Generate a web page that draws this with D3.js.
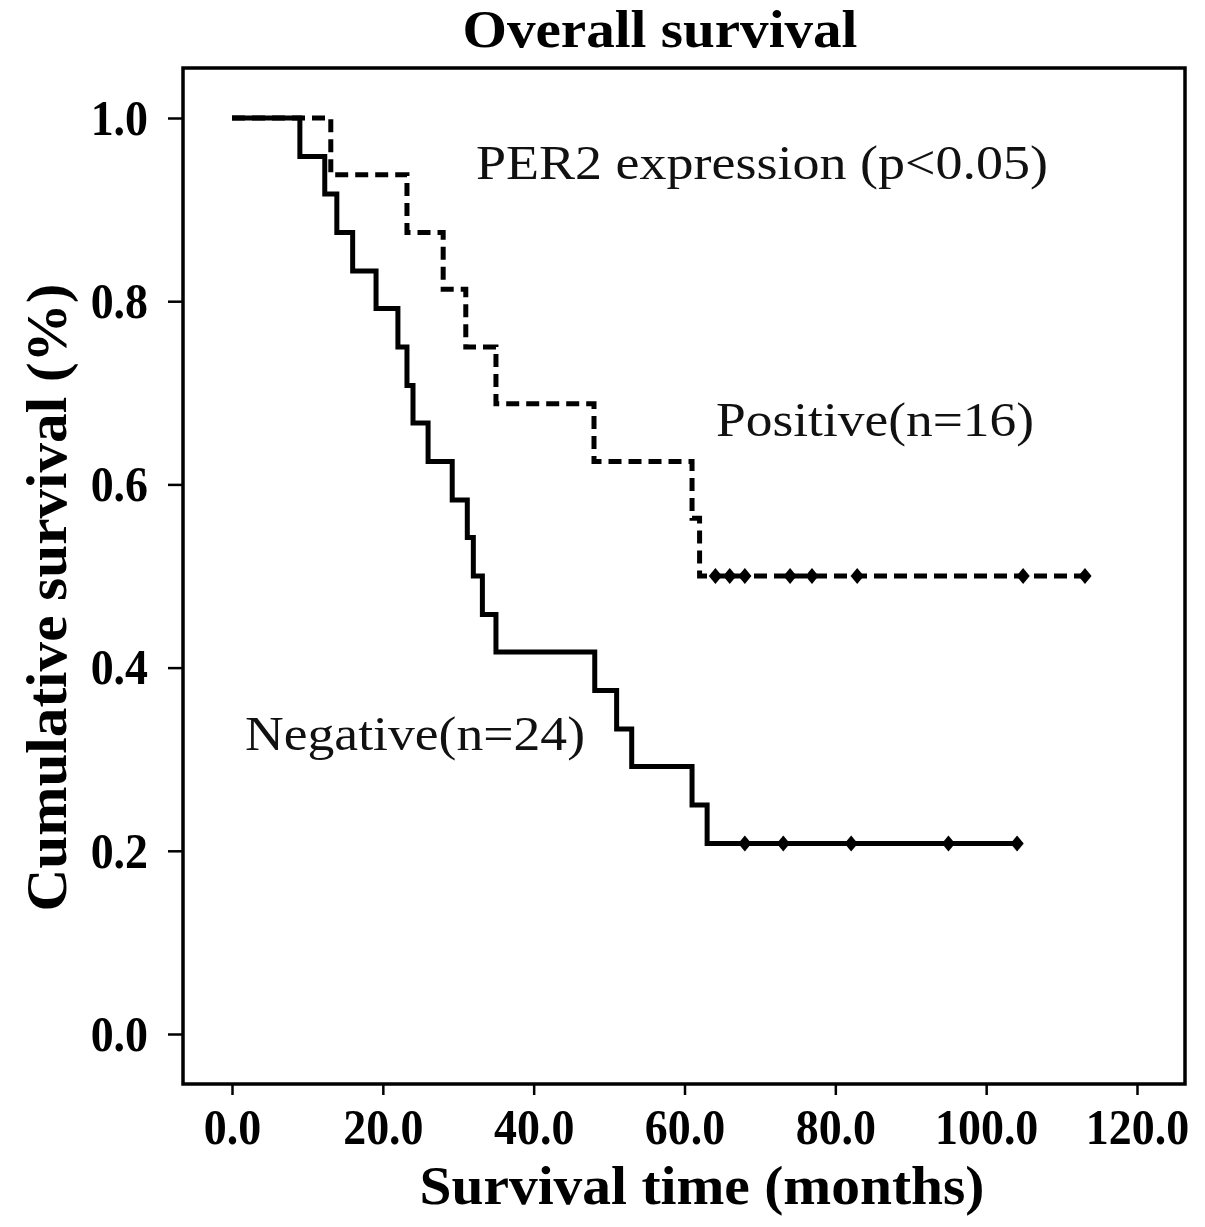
<!DOCTYPE html>
<html>
<head>
<meta charset="utf-8">
<script src="https://cdn.jsdelivr.net/npm/d3@7"></script>
<style>
  html, body { margin: 0; padding: 0; background: #fff; }
  svg { display: block; }
</style>
</head>
<body>
<svg id="chart" width="1205" height="1227"></svg>
<script>
// ---- data ----
const xTicks = [0, 20, 40, 60, 80, 100, 120];
const yTicks = [0.0, 0.2, 0.4, 0.6, 0.8, 1.0];

// Negative group (n=24): step times (months) and survival after each step
const negTimes = [0, 9.0, 12.3, 13.9, 16.0, 19.1, 22.0, 23.2, 24.0, 26.0, 29.2, 31.2, 32.0, 33.2, 35.0, 48.1, 51.0, 53.0, 61.0, 63.0, 104.1];
const negSurv  = [1.000, 0.958, 0.917, 0.875, 0.833, 0.792, 0.750, 0.708, 0.667, 0.625, 0.583, 0.542, 0.500, 0.458, 0.417, 0.375, 0.333, 0.292, 0.250, 0.208, 0.208];
const negCensored = [68.0, 73.1, 82.1, 95.0, 104.1];

// Positive group (n=16)
const posTimes = [0, 13.1, 23.2, 28.0, 31.0, 35.0, 48.0, 61.0, 62.0, 113.1];
const posSurv  = [1.000, 0.938, 0.875, 0.813, 0.750, 0.688, 0.625, 0.563, 0.500, 0.500];
const posCensored = [64.1, 66.0, 68.0, 74.0, 76.9, 82.9, 104.9, 113.1];

// ---- drawing ----
const svg = d3.select("#chart");
const frame = {left: 183, right: 1185, top: 68, bottom: 1084};

const x = d3.scaleLinear().domain([0, 120]).range([232, 1137]);
const y = d3.scaleLinear().domain([0, 1]).range([1034, 118]);

const serif = "'Liberation Serif', 'Times New Roman', Times, serif";

// frame
svg.append("rect")
  .attr("x", frame.left).attr("y", frame.top)
  .attr("width", frame.right - frame.left).attr("height", frame.bottom - frame.top)
  .attr("fill", "none").attr("stroke", "#000").attr("stroke-width", 3.5);

function condense(sel, factor) {
  sel.each(function () {
    const w = this.getComputedTextLength();
    d3.select(this).attr("textLength", w * factor).attr("lengthAdjust", "spacingAndGlyphs");
  });
}

// x axis
const xAxis = svg.append("g")
  .attr("transform", `translate(0,${frame.bottom})`)
  .call(d3.axisBottom(x).tickValues(xTicks).tickSize(11).tickPadding(13).tickFormat(d3.format(".1f")));
xAxis.select(".domain").remove();
xAxis.selectAll(".tick line").attr("stroke", "#000").attr("stroke-width", 2.5);
xAxis.selectAll(".tick text")
  .attr("font-family", serif).attr("font-weight", "bold").attr("font-size", 51).attr("fill", "#000")
  .call(condense, 0.9);

// y axis
const yAxis = svg.append("g")
  .attr("transform", `translate(${frame.left},0)`)
  .call(d3.axisLeft(y).tickValues(yTicks).tickSize(15).tickPadding(20).tickFormat(d3.format(".1f")));
yAxis.select(".domain").remove();
yAxis.selectAll(".tick line").attr("stroke", "#000").attr("stroke-width", 2.5);
yAxis.selectAll(".tick text")
  .attr("font-family", serif).attr("font-weight", "bold").attr("font-size", 51).attr("fill", "#000")
  .call(condense, 0.9);

// title
svg.append("text")
  .attr("x", 660).attr("y", 47)
  .attr("text-anchor", "middle")
  .attr("font-family", serif).attr("font-weight", "bold").attr("font-size", 52)
  .attr("textLength", 395).attr("lengthAdjust", "spacingAndGlyphs")
  .text("Overall survival");

// x label
svg.append("text")
  .attr("x", 702).attr("y", 1204)
  .attr("text-anchor", "middle")
  .attr("font-family", serif).attr("font-weight", "bold").attr("font-size", 54)
  .attr("textLength", 565).attr("lengthAdjust", "spacingAndGlyphs")
  .text("Survival time (months)");

// y label
svg.append("text")
  .attr("transform", `translate(66,${(283 + 912) / 2}) rotate(-90)`)
  .attr("text-anchor", "middle")
  .attr("font-family", serif).attr("font-weight", "bold").attr("font-size", 56)
  .attr("textLength", 628).attr("lengthAdjust", "spacingAndGlyphs")
  .text("Cumulative survival (%)");

// annotations
function note(txt, x0, yb, len) {
  svg.append("text")
    .attr("x", x0).attr("y", yb)
    .attr("font-family", serif).attr("font-size", 48).attr("fill", "#111")
    .attr("textLength", len).attr("lengthAdjust", "spacingAndGlyphs")
    .text(txt);
}
note("PER2 expression (p<0.05)", 476, 179, 572);
note("Positive(n=16)", 716, 436, 318);
note("Negative(n=24)", 245, 750, 340);

// curves
const line = d3.line()
  .x(d => x(d[0])).y(d => y(d[1]))
  .curve(d3.curveStepAfter);

const posData = posTimes.map((t, i) => [t, posSurv[i]]);
const negData = negTimes.map((t, i) => [t, negSurv[i]]);

svg.append("path")
  .attr("d", line(posData))
  .attr("fill", "none").attr("stroke", "#000").attr("stroke-width", 5)
  .attr("stroke-dasharray", "13,7");

svg.append("path")
  .attr("d", line(negData))
  .attr("fill", "none").attr("stroke", "#000").attr("stroke-width", 5);

// censor marks
const diamond = d3.symbol().type(d3.symbolDiamond).size(90);
function censor(times, level) {
  svg.append("g").selectAll("path")
    .data(times).join("path")
    .attr("d", diamond)
    .attr("transform", t => `translate(${x(t)},${y(level)}) scale(1.3,0.9)`)
    .attr("fill", "#000");
}
censor(posCensored, posSurv[posSurv.length - 1]);
censor(negCensored, negSurv[negSurv.length - 1]);
</script>
</body>
</html>
